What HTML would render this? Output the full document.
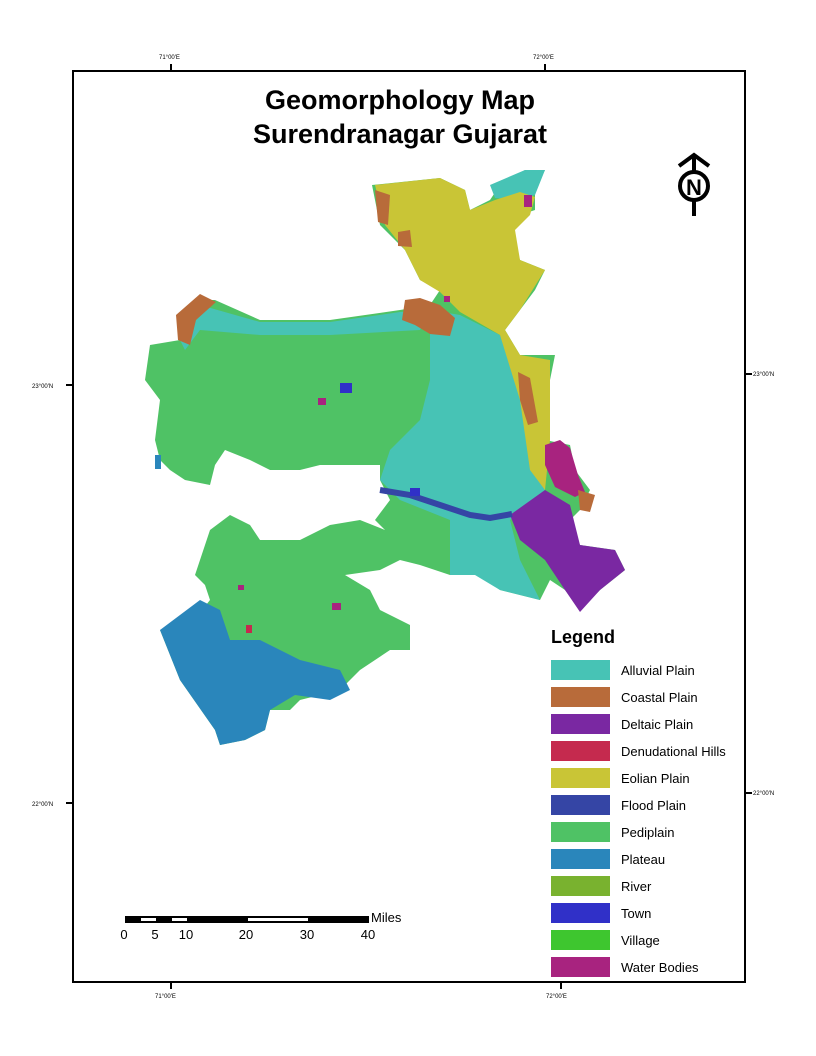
<!DOCTYPE html>
<html><head><meta charset="utf-8"><style>
body{margin:0;background:#fff}
svg{display:block}
text{font-family:"Liberation Sans",sans-serif}
</style></head><body>
<svg width="816" height="1056" viewBox="0 0 816 1056">
<rect x="0" y="0" width="816" height="1056" fill="#fff"/>
<rect x="73" y="71" width="672" height="911" fill="none" stroke="#000" stroke-width="2"/>
<g font-size="6" fill="#000">
<line x1="171" y1="64" x2="171" y2="71" stroke="#000" stroke-width="2"/>
<line x1="545" y1="64" x2="545" y2="71" stroke="#000" stroke-width="2"/>
<line x1="171" y1="982" x2="171" y2="989" stroke="#000" stroke-width="2"/>
<line x1="561" y1="982" x2="561" y2="989" stroke="#000" stroke-width="2"/>
<line x1="66" y1="385" x2="73" y2="385" stroke="#000" stroke-width="2"/>
<line x1="66" y1="803" x2="73" y2="803" stroke="#000" stroke-width="2"/>
<line x1="745" y1="374" x2="752" y2="374" stroke="#000" stroke-width="2"/>
<line x1="745" y1="793" x2="752" y2="793" stroke="#000" stroke-width="2"/>
<text x="159" y="59">71°00'E</text><text x="533" y="59">72°00'E</text>
<text x="155" y="998">71°00'E</text><text x="546" y="998">72°00'E</text>
<text x="32" y="388">23°00'N</text><text x="32" y="806">22°00'N</text>
<text x="753" y="376">23°00'N</text><text x="753" y="795">22°00'N</text>
</g>
<g font-weight="bold" font-size="27" text-anchor="middle">
<text x="400" y="109">Geomorphology Map</text>
<text x="400" y="143">Surendranagar Gujarat</text>
</g>
<g stroke="#000" stroke-width="4" fill="none">
<polyline points="679,166 694,155 709,166"/>
<line x1="694" y1="155" x2="694" y2="216"/>
<circle cx="694" cy="186" r="14" fill="#fff"/>
<text x="694" y="195" font-size="22" font-weight="bold" text-anchor="middle" stroke="none" fill="#000">N</text>
</g>
<g>
<polygon fill="#4fc265" points="150,345 180,340 200,300 215,300 260,320 330,320 400,310 430,305 440,290 420,280 405,250 380,225 372,185 440,178 465,190 470,210 490,200 500,185 525,170 545,170 535,190 535,210 520,215 510,235 520,260 545,270 535,290 520,310 505,330 520,355 555,355 550,380 545,440 570,445 575,470 590,490 580,510 570,520 580,545 615,550 625,570 600,590 580,610 565,590 550,580 540,600 500,590 480,575 450,575 420,565 400,560 380,570 345,575 370,590 380,610 410,625 410,650 390,650 360,670 340,690 300,700 290,710 270,710 265,730 245,740 220,745 215,730 180,680 160,630 190,625 210,600 205,585 195,575 210,530 230,515 250,525 260,540 300,540 330,525 360,520 385,530 375,520 390,500 385,490 380,480 380,465 360,465 320,465 300,470 270,470 250,460 225,450 215,465 210,485 185,480 170,470 160,460 155,440 160,400 145,380"/>
<polygon fill="#47c3b5" points="430,310 460,315 500,335 520,380 525,430 545,490 510,520 520,560 540,600 500,590 475,575 450,575 450,520 400,500 380,480 390,450 420,420 430,380 430,340"/>
<polygon fill="#47c3b5" points="180,340 200,305 260,322 330,322 400,312 430,310 420,330 330,335 260,335 200,330 185,350"/>
<polygon fill="#47c3b5" points="490,185 525,170 545,170 535,195 520,200 495,198"/>
<polygon fill="#c9c536" points="375,185 440,178 465,190 470,210 495,200 520,192 535,197 530,215 515,230 520,260 545,270 520,310 505,330 520,355 550,360 550,440 545,490 530,470 520,400 500,335 460,312 440,292 420,280 405,250 385,225"/>
<polygon fill="#7a28a2" points="510,515 545,490 570,505 580,545 615,550 625,570 600,590 580,612 565,590 545,560 520,540"/>
<polygon fill="#a8237f" points="545,445 560,440 570,448 578,475 585,492 575,497 555,487 545,465"/>
<g fill="#b86b3a">
<polygon points="578,490 595,495 590,512 580,510"/>
<polygon points="375,190 390,195 388,225 378,222"/>
<polygon points="398,232 410,230 412,247 398,246"/>
<polygon points="405,300 420,298 440,305 455,318 450,336 430,334 415,325 402,320"/>
<polygon points="176,315 200,294 216,302 196,320 190,345 178,340"/>
<polygon points="518,372 530,378 538,422 528,425 520,400"/>
</g>
<polyline points="380,490 410,495 440,505 470,515 490,518 512,514" fill="none" stroke="#3545a5" stroke-width="6"/>
<polygon fill="#2a86bb" points="160,630 200,600 220,610 230,640 260,640 300,660 340,670 350,690 330,700 295,695 270,710 265,730 245,740 220,745 215,730 180,680 168,650"/>
<g fill="#a8237f">
<rect x="340" y="383" width="12" height="10" fill="#3030c8"/>
<rect x="318" y="398" width="8" height="7"/>
<rect x="410" y="488" width="10" height="8" fill="#3030c8"/>
<rect x="332" y="603" width="9" height="7"/>
<rect x="246" y="625" width="6" height="8" fill="#c52a4e"/>
<rect x="238" y="585" width="6" height="5"/>
<rect x="524" y="195" width="8" height="12"/>
<rect x="444" y="296" width="6" height="6"/>
<rect x="155" y="455" width="6" height="14" fill="#2a86bb"/>
</g>
</g>
<g>
<text x="551" y="643" font-size="18" font-weight="bold">Legend</text>
<g id="legend-items"></g>
</g>
<g font-size="13">
<rect x="125" y="916" width="244" height="7" fill="#000"/>
<rect x="141" y="918" width="15" height="3" fill="#fff"/>
<rect x="172" y="918" width="15" height="3" fill="#fff"/>
<rect x="248" y="918" width="60" height="3" fill="#fff"/>
<text x="371" y="922">Miles</text>
<text x="124" y="939" text-anchor="middle">0</text>
<text x="155" y="939" text-anchor="middle">5</text>
<text x="186" y="939" text-anchor="middle">10</text>
<text x="246" y="939" text-anchor="middle">20</text>
<text x="307" y="939" text-anchor="middle">30</text>
<text x="368" y="939" text-anchor="middle">40</text>
</g>
</svg>
<script>
const legendLabels=["Alluvial Plain","Coastal Plain","Deltaic Plain","Denudational Hills","Eolian Plain","Flood Plain","Pediplain","Plateau","River","Town","Village","Water Bodies"];
const legendColors=["#47c3b5","#b86b3a","#7a28a2","#c52a4e","#c9c536","#3545a5","#4fc265","#2a86bb","#79b22f","#3030c8","#3ec62f","#a8237f"];
const g=document.getElementById('legend-items');
const ns="http://www.w3.org/2000/svg";
legendLabels.forEach((l,i)=>{
 const y=660+i*27;
 const r=document.createElementNS(ns,'rect');
 r.setAttribute('x',551);r.setAttribute('y',y);r.setAttribute('width',59);r.setAttribute('height',20);r.setAttribute('fill',legendColors[i]);
 
 
 g.appendChild(r);
 const t=document.createElementNS(ns,'text');
 t.setAttribute('x',621);t.setAttribute('y',y+15);t.setAttribute('font-size','13');
 t.textContent=l;
 
 
 g.appendChild(t);
});
</script>
</body></html>
